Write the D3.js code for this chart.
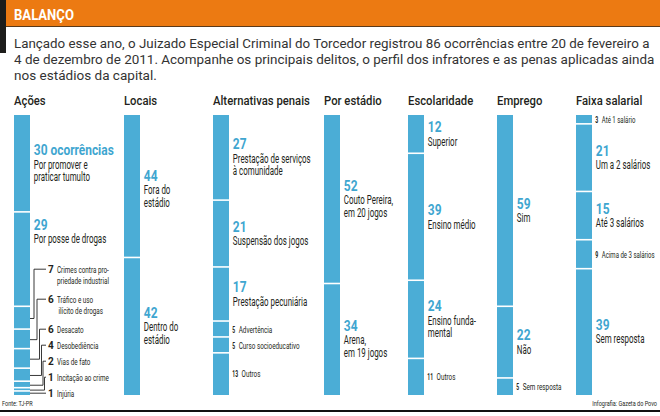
<!DOCTYPE html>
<html><head><meta charset="utf-8">
<script src="https://cdn.jsdelivr.net/npm/d3@7"></script>
<style>body{margin:0;background:#fff}svg{display:block}</style>
</head><body><svg id="c" width="660" height="416"></svg>
<script>
// ---------- DATA ----------
const headerTitle = "BALANÇO";
const introLines = [
  "Lançado esse ano, o Juizado Especial Criminal do Torcedor registrou 86 ocorrências entre 20 de fevereiro a",
  "4 de dezembro de 2011. Acompanhe os principais delitos, o perfil dos infratores e as penas aplicadas ainda",
  "nos estádios da capital."
];
const columns = ["Ações","Locais","Alternativas penais","Por estádio","Escolaridade","Emprego","Faixa salarial"];
const acoesLabels = ["Por promover e\npraticar tumulto","Por posse de drogas","Crimes contra pro-\npriedade industrial","Tráfico e uso\nilícito de drogas","Desacato","Desobediência","Vias de fato","Incitação ao crime","Injúria"];
const acoesValues = [30,29,7,6,6,4,2,1,1];
const locaisLabels = ["Fora do\nestádio","Dentro do\nestádio"];
const locaisValues = [44,42];
const penaisLabels = ["Prestação de serviços\nà comunidade","Suspensão dos jogos","Prestação pecuniária","Advertência","Curso socioeducativo","Outros"];
const penaisValues = [27,21,17,5,5,13];
const estadioLabels = ["Couto Pereira,\nem 20 jogos","Arena,\nem 19 jogos"];
const estadioValues = [52,34];
const escolaridadeLabels = ["Superior","Ensino médio","Ensino funda-\nmental","Outros"];
const escolaridadeValues = [12,39,24,11];
const empregoLabels = ["Sim","Não","Sem resposta"];
const empregoValues = [59,22,5];
const salarioLabels = ["Até 1 salário","Um a 2 salários","Até 3 salários","Acima de 3 salários","Sem resposta"];
const salarioValues = [3,21,15,9,39];
const sourceText = "Fonte: TJ-PR";
const creditText = "Infografia: Gazeta do Povo";

// ---------- LAYOUT / STYLE ----------
const svg = d3.select("#c");
const W = 660, H = 416;
const BLUE = "#4badd6", NUMBLUE = "#3fa6d0", INK = "#231f20";
const FONT = "Roboto, 'Open Sans', 'DejaVu Sans', sans-serif";
const IFONT = "Roboto, 'Noto Sans', sans-serif";
const colX = [14,124,213,324,408,497,576];
const BAR_W = 16, TOP = 115, BOT = 395, GAP = 1.6;

const styles = {
  title:{size:12.5, weight:500, sample:"Alternativas penais", w:97, fill:INK},
  num:{size:15, weight:700, sample:"30 ocorrências", w:80, fill:NUMBLUE},
  lab:{size:12, weight:400, sample:"Prestação de serviços", w:78, fill:INK},
  snum:{size:9, weight:700, sample:"13", w:5.8, fill:INK},
  small:{size:9, weight:400, sample:"Curso socioeducativo", w:61, fill:INK},
  tnum:{size:8.5, weight:700, sample:"9", w:3, fill:INK},
  tiny:{size:8.5, weight:400, sample:"Acima de 3 salários", w:53, fill:INK},
  lnum:{size:11, weight:700, sample:"30", w:11.5, fill:INK},
  ltxt:{size:9.5, weight:400, sample:"Crimes contra pro-", w:52, fill:INK},
  foot:{size:6.5, weight:400, sample:"Infografia: Gazeta do Povo", w:65, fill:INK},
  head:{size:15, weight:700, sample:"BALANÇO", w:60, fill:"#fff"}
};
const probe = svg.append("text").attr("font-family", FONT);
Object.values(styles).forEach(s => {
  probe.attr("font-size", s.size).attr("font-weight", s.weight).text(s.sample);
  s.sx = s.w / probe.node().getComputedTextLength();
});
probe.remove();

function T(g, x, y, str, st, anchor) {
  const s = styles[st];
  const t = g.append("text")
    .attr("transform", `translate(${x},${y}) scale(${s.sx},1)`)
    .attr("font-family", FONT).attr("font-size", s.size).attr("font-weight", s.weight)
    .attr("fill", s.fill).attr("text-anchor", anchor || "start").text(str);
  return t.node().getComputedTextLength() * s.sx;
}

// ---------- HEADER ----------
svg.append("rect").attr("x",0).attr("y",0).attr("width",6).attr("height",53).attr("fill","#1d1d1b");
svg.append("rect").attr("x",6).attr("y",0).attr("width",W-6).attr("height",26).attr("fill","#ec7a12");
svg.append("rect").attr("x",6).attr("y",26).attr("width",W-6).attr("height",1).attr("fill","#5b3a1a");
T(svg, 14, 19.5, headerTitle, "head");

const introW = [636, 641, 143];
introLines.forEach((l,i) => {
  const t = svg.append("text").attr("font-family", IFONT).attr("font-size", 13).attr("fill", "#333").text(l);
  const sx = introW[i] / t.node().getComputedTextLength();
  t.attr("transform", `translate(14,${48 + i*15.8}) scale(${sx},1)`);
});

// ---------- COLUMNS ----------
const cols = [
  {labels:acoesLabels, values:acoesValues},
  {labels:locaisLabels, values:locaisValues},
  {labels:penaisLabels, values:penaisValues},
  {labels:estadioLabels, values:estadioValues},
  {labels:escolaridadeLabels, values:escolaridadeValues},
  {labels:empregoLabels, values:empregoValues},
  {labels:salarioLabels, values:salarioValues}
];
const smallSet = {2:[3,4,5], 4:[3], 5:[2], 6:[0,3]};
const bigShift = {"0-1": -27.5, "1-0": 3};

cols.forEach((c, ci) => {
  c.name = columns[ci];
  const total = d3.sum(c.values);
  const y = d3.scaleLinear().domain([0,total]).range([TOP,BOT]);
  const cum = Array.from(d3.cumsum(c.values));
  const starts = [0, ...cum.slice(0,-1)];
  const x0 = colX[ci];
  const g = svg.append("g");
  T(g, x0, 104.5, c.name, "title");
  g.selectAll("rect").data(c.values).join("rect")
    .attr("x", x0).attr("y", (d,i) => y(starts[i])).attr("width", BAR_W)
    .attr("height", (d,i) => Math.max(0.9, y(starts[i]+d) - y(starts[i]) - (i < c.values.length-1 ? GAP : 0)))
    .attr("fill", BLUE);

  const lx = x0 + BAR_W + 3.8;
  let leaderY = 273;
  const vxs = [34, 37, 39.5, 41.5, 43, 44.5, null];
  c.values.forEach((v, i) => {
    const y0 = y(starts[i]), y1 = y(starts[i]+v), mid = (y0+y1)/2;
    const lines = c.labels[i].split("\n");
    if (ci === 0 && i >= 2) {
      const L = leaderY, k = i-2;
      T(g, 48, L, String(v), "lnum");
      lines.forEach((ln, j) => T(g, 57 + (j && k===1 ? 1.5 : 0), L + j*11, ln, "ltxt"));
      const ly = L - 3.8, vx = vxs[k];
      const p = vx == null ? `M${x0+BAR_W},${ly}H46` : `M${x0+BAR_W},${mid}H${vx}V${ly}H46`;
      g.append("path").attr("d", p).attr("fill","none").attr("stroke","#222").attr("stroke-width",0.9);
      leaderY += lines.length === 2 ? 30 : 16;
    } else if ((smallSet[ci] || []).includes(i)) {
      const tinyMode = ci === 6;
      const b = mid + 3;
      const w = T(g, lx - 0.5, b, String(v), tinyMode ? "tnum" : "snum");
      T(g, lx - 0.5 + w + 3.5, b, lines.join(" "), tinyMode ? "tiny" : "small");
    } else {
      const n = lines.length;
      const b = mid - (5 + 12.5*(n-1))/2 + (bigShift[ci+"-"+i] || 0);
      T(g, lx, b, (ci === 0 && i === 0) ? v + " ocorrências" : String(v), "num");
      lines.forEach((ln, j) => T(g, lx, b + 13.5 + j*12.5, ln, "lab"));
    }
  });
});

// ---------- FOOTER ----------
T(svg, 2, 406, sourceText, "foot");
T(svg, 657, 406, creditText, "foot", "end");
svg.append("rect").attr("x",0).attr("y",410).attr("width",W).attr("height",2).attr("fill","#111");
</script>
</body></html>
